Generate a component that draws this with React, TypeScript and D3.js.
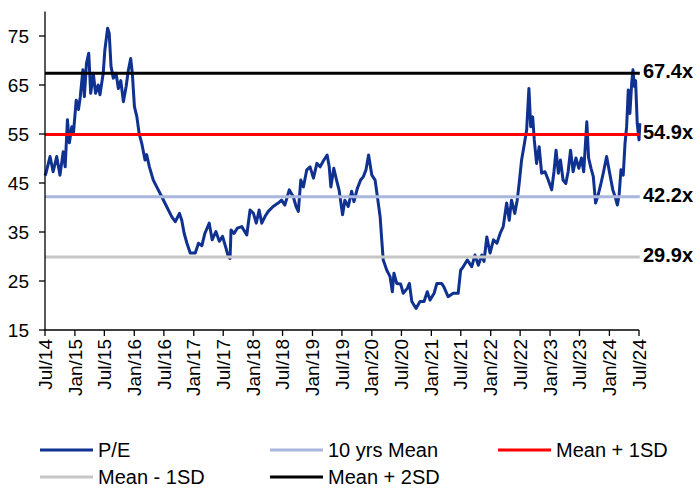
import React from 'react';
import * as d3 from 'd3';

// P/E history
const peDates = [
  '2014-07-01', '2014-07-07', '2014-08-01', '2014-08-20', '2014-09-11', '2014-10-01', '2014-10-21', '2014-11-02',
  '2014-11-16', '2014-11-28', '2014-12-13', '2014-12-23', '2015-01-09', '2015-01-23', '2015-02-03', '2015-02-19',
  '2015-02-28', '2015-03-13', '2015-03-27', '2015-04-08', '2015-04-24', '2015-05-08', '2015-05-24', '2015-06-04',
  '2015-06-24', '2015-07-04', '2015-07-21', '2015-07-31', '2015-08-11', '2015-08-25', '2015-09-11', '2015-09-25',
  '2015-10-10', '2015-10-26', '2015-11-12', '2015-11-26', '2015-12-10', '2015-12-20', '2016-01-02', '2016-01-17',
  '2016-01-31', '2016-02-16', '2016-03-07', '2016-03-17', '2016-04-03', '2016-04-27', '2016-05-18', '2016-06-18',
  '2016-07-18', '2016-08-19', '2016-09-09', '2016-10-05', '2016-10-19', '2016-11-03', '2016-11-20', '2016-12-10',
  '2017-01-10', '2017-01-30', '2017-02-20', '2017-03-10', '2017-04-06', '2017-04-24', '2017-05-17', '2017-06-07',
  '2017-06-27', '2017-07-18', '2017-08-01', '2017-08-12', '2017-08-18', '2017-09-06', '2017-09-26', '2017-10-23',
  '2017-11-23', '2017-12-13', '2018-01-03', '2018-01-20', '2018-02-07', '2018-02-23', '2018-03-14', '2018-04-04',
  '2018-05-04', '2018-06-04', '2018-06-25', '2018-07-15', '2018-08-11', '2018-09-05', '2018-09-22', '2018-10-06',
  '2018-10-21', '2018-11-06', '2018-11-27', '2018-12-17', '2019-01-07', '2019-01-28', '2019-02-17', '2019-03-12',
  '2019-04-01', '2019-04-14', '2019-04-24', '2019-05-12', '2019-05-29', '2019-06-14', '2019-07-05', '2019-07-19',
  '2019-08-09', '2019-08-30', '2019-09-13', '2019-10-04', '2019-10-24', '2019-11-10', '2019-11-26', '2019-12-12',
  '2020-01-01', '2020-01-21', '2020-02-07', '2020-02-21', '2020-03-02', '2020-03-11', '2020-04-02', '2020-04-22',
  '2020-05-06', '2020-05-16', '2020-06-02', '2020-06-26', '2020-07-12', '2020-08-06', '2020-08-19', '2020-09-03',
  '2020-09-29', '2020-10-23', '2020-11-17', '2020-12-07', '2020-12-24', '2021-01-18', '2021-02-04', '2021-03-05',
  '2021-03-19', '2021-04-14', '2021-05-15', '2021-06-15', '2021-06-30', '2021-07-16', '2021-08-10', '2021-09-06',
  '2021-09-26', '2021-10-17', '2021-11-07', '2021-11-21', '2021-12-08', '2021-12-28', '2022-01-18', '2022-02-08',
  '2022-02-28', '2022-03-19', '2022-04-09', '2022-04-25', '2022-05-09', '2022-05-29', '2022-06-13', '2022-06-25',
  '2022-07-10', '2022-07-24', '2022-08-10', '2022-08-24', '2022-09-04', '2022-09-16', '2022-09-26', '2022-10-10',
  '2022-10-26', '2022-11-10', '2022-12-01', '2022-12-21', '2023-01-11', '2023-01-25', '2023-02-07', '2023-02-21',
  '2023-03-06', '2023-03-22', '2023-04-08', '2023-04-22', '2023-05-07', '2023-05-23', '2023-06-09', '2023-06-27',
  '2023-07-13', '2023-07-27', '2023-08-15', '2023-08-26', '2023-09-10', '2023-09-24', '2023-10-08', '2023-10-24',
  '2023-11-08', '2023-11-24', '2023-12-15', '2024-01-01', '2024-01-22', '2024-02-05', '2024-02-19', '2024-03-01',
  '2024-03-12', '2024-03-26', '2024-04-06', '2024-04-16', '2024-04-26', '2024-05-06', '2024-05-17', '2024-05-25',
  '2024-06-02', '2024-06-10', '2024-06-20', '2024-07-01', '2024-07-06',
];
const peValues = [
  46.5, 47.0, 50.4, 47.3, 50.4, 46.6, 51.4, 48.3,
  57.9, 53.2, 56.5, 55.2, 61.9, 60.0, 62.6, 68.1,
  62.6, 69.4, 71.5, 63.3, 67.4, 63.3, 65.0, 63.0,
  67.4, 72.1, 76.6, 75.5, 68.8, 66.4, 67.4, 64.3,
  65.9, 61.6, 64.7, 68.1, 70.4, 67.4, 60.6, 58.5,
  55.1, 53.1, 49.7, 50.8, 48.3, 45.6, 44.2, 42.2,
  40.2, 38.1, 37.1, 38.8, 37.4, 34.7, 32.7, 30.7,
  30.7, 32.7, 32.2, 34.7, 36.8, 33.4, 35.1, 33.1,
  34.1, 31.7, 30.0, 29.6, 35.4, 34.7, 35.8, 36.1,
  34.4, 39.5, 38.8, 36.8, 39.5, 36.8, 38.1, 39.2,
  40.2, 40.9, 41.5, 40.5, 43.6, 42.2, 40.2, 39.2,
  45.6, 44.2, 47.7, 48.3, 46.0, 49.0, 48.3, 49.7,
  50.7, 48.3, 44.2, 48.0, 45.6, 43.5, 38.5, 41.5,
  40.2, 43.3, 41.2, 43.9, 45.6, 46.3, 47.7, 50.7,
  46.6, 45.6, 41.5, 38.1, 33.4, 29.3, 27.2, 25.9,
  22.8, 26.6, 24.5, 24.4, 22.5, 23.5, 24.5, 20.8,
  19.4, 20.8, 20.8, 22.8, 21.1, 22.5, 24.5, 24.5,
  23.8, 21.8, 22.5, 22.5, 27.2, 27.9, 29.3, 27.9,
  30.3, 28.2, 30.3, 29.0, 34.0, 30.7, 33.4, 32.7,
  34.7, 36.1, 40.9, 37.4, 41.5, 38.8, 41.5, 44.9,
  49.7, 52.4, 55.8, 64.3, 56.5, 58.5, 53.8, 49.0,
  52.4, 47.0, 47.3, 45.6, 43.6, 47.3, 51.7, 47.0,
  49.7, 45.6, 44.9, 47.3, 51.7, 47.3, 50.1, 48.0,
  50.1, 47.3, 57.5, 50.1, 48.0, 46.3, 40.9, 42.6,
  44.6, 47.0, 50.4, 47.3, 43.6, 42.2, 40.5, 42.6,
  47.7, 46.6, 53.1, 56.5, 64.0, 59.2, 65.4, 68.1,
  64.7, 65.9, 57.2, 53.8, 57.2,
];

// valuation bands
const bandNames = ['10 yrs Mean', 'Mean + 1SD', 'Mean - 1SD', 'Mean + 2SD'];
const bandValues = [42.2, 54.9, 29.9, 67.4];

const yTicks = [15, 25, 35, 45, 55, 65, 75];
const xStart = '2014-07-01';
const xEnd = '2024-07-01';

const peColor = '#0f3190';
const bandColors = ['#a9b6de', '#ff0000', '#c6c6c6', '#000000'];
const font = "'Liberation Sans', Arial, sans-serif";

export default function App() {
  const parse = d3.timeParse('%Y-%m-%d');
  const series = peDates.map((d, i) => ({ date: parse(d) as Date, value: peValues[i] }));

  const x = d3.scaleTime().domain([parse(xStart) as Date, parse(xEnd) as Date]).range([45, 639]);
  const y = d3.scaleLinear().domain([15, 80]).range([330, 11.5]);

  const xTicks = x.ticks(d3.timeMonth.every(6) as d3.TimeInterval);
  const fmt = d3.timeFormat('%b/%y');

  const line = d3.line<{ date: Date; value: number }>()
    .x(d => x(d.date))
    .y(d => y(d.value));

  const lastDate = series[series.length - 1].date;

  // legend layout: [name, color, col, row]
  const legend = [
    { name: 'P/E', color: peColor, col: 0, row: 0 },
    { name: bandNames[0], color: bandColors[0], col: 1, row: 0 },
    { name: bandNames[1], color: bandColors[1], col: 2, row: 0 },
    { name: bandNames[2], color: bandColors[2], col: 0, row: 1 },
    { name: bandNames[3], color: bandColors[3], col: 1, row: 1 },
  ];
  const colX = [40, 270, 498];
  const rowY = [450, 477];

  return (
    <svg width={700} height={490} style={{ position: 'absolute', left: 0, top: 0, background: '#fff' }}
      fontFamily={font}>
      {/* P/E line */}
      <path d={line(series) || ''} fill="none" stroke={peColor} strokeWidth={3} strokeLinejoin="round" />

      {/* band lines */}
      {bandValues.map((v, i) => (
        <line key={bandNames[i]} x1={x.range()[0]} x2={x(lastDate)} y1={y(v)} y2={y(v)}
          stroke={bandColors[i]} strokeWidth={3} />
      ))}
      {bandValues.map((v, i) => (
        <text key={'l' + i} x={643} y={y(v) + 5} fontSize={20} fontWeight="bold" fill="#000">
          {v.toFixed(1) + 'x'}
        </text>
      ))}

      {/* y axis */}
      <line x1={45} x2={45} y1={y(80)} y2={y(15)} stroke="#000" strokeWidth={1.3} />
      {yTicks.map(t => (
        <g key={t}>
          <line x1={39} x2={45} y1={y(t)} y2={y(t)} stroke="#000" strokeWidth={1.3} />
          <text x={29} y={y(t)} dy="0.35em" textAnchor="end" fontSize={19} fill="#000">{t}</text>
        </g>
      ))}

      {/* x axis */}
      <line x1={45} x2={639} y1={330} y2={330} stroke="#000" strokeWidth={1.3} />
      {xTicks.map(t => (
        <g key={+t}>
          <line x1={x(t)} x2={x(t)} y1={330} y2={336} stroke="#000" strokeWidth={1.3} />
          <text transform={`translate(${x(t)},339) rotate(-90)`} dy="0.35em" textAnchor="end"
            fontSize={19} fill="#000">{fmt(t)}</text>
        </g>
      ))}

      {/* legend */}
      {legend.map(l => (
        <g key={l.name}>
          <line x1={colX[l.col]} x2={colX[l.col] + 53} y1={rowY[l.row]} y2={rowY[l.row]}
            stroke={l.color} strokeWidth={3} />
          <text x={colX[l.col] + 58} y={rowY[l.row] + 7} fontSize={20} fill="#000">{l.name}</text>
        </g>
      ))}
    </svg>
  );
}
